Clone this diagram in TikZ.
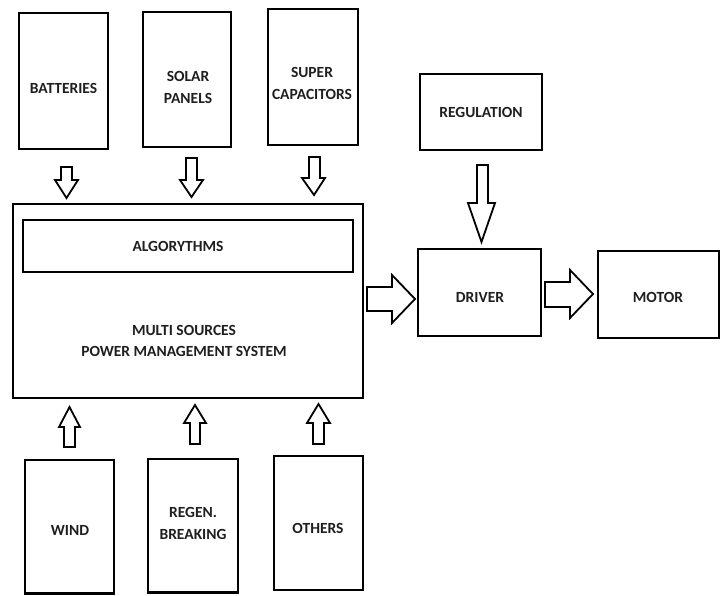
\documentclass[tikz,border=0pt]{standalone}
\usepackage{fontspec}
\setmainfont{Carlito}
\begin{document}
\begin{tikzpicture}[x=1pt,y=-1pt,
  box/.style={draw=black,line width=2.2pt,fill=white},
  lbl/.style={font=\bfseries\fontsize{15.5}{21.5}\selectfont,align=center,inner sep=0pt,text=black!88},
  blk/.style={draw=black,line width=1.8pt,line join=miter,fill=white}]
\useasboundingbox (0,0) rectangle (725,595);
% boxes
\draw[box] (19,13) rectangle (108,149);
\node[lbl] (bat) at (63.5,88) {BATTERIES};
\draw[box] (143,12) rectangle (231,147);
\node[lbl] (sol) at (188,87.5) {SOLAR\\PANELS};
\draw[box] (268,9) rectangle (358,145);
\node[lbl] (sup) at (312,83.5) {SUPER\\CAPACITORS};
\draw[box] (420,74) rectangle (542,150);
\node[lbl] (reg) at (481,112) {REGULATION};
\draw[box] (13,204) rectangle (363,398);
\draw[box] (23,220) rectangle (353,272);
\node[lbl] (alg) at (178,246) {ALGORYTHMS};
\node[lbl] (mpm) at (184,341) {MULTI SOURCES\\POWER MANAGEMENT SYSTEM};
\draw[box] (418,249) rectangle (541,336);
\node[lbl] (drv) at (480,297) {DRIVER};
\draw[box] (598,251) rectangle (719,338);
\node[lbl] (mot) at (658,297) {MOTOR};
\draw[box] (25,460) rectangle (114,593.5);
\node[lbl] (wind) at (70,530) {WIND};
\draw[box] (148,459) rectangle (238,592.5);
\node[lbl] (regen) at (193,523.5) {REGEN.\\BREAKING};
\draw[box] (274,456) rectangle (363,590);
\node[lbl] (oth) at (318,528) {OTHERS};
% down arrows
\draw[blk] (61,167) -- (72,167) -- (72,180) -- (78,180) -- (66.5,198) -- (55,180) -- (61,180) -- cycle;
\draw[blk] (186,158) -- (197,158) -- (197,180) -- (203,180) -- (191.5,197) -- (180,180) -- (186,180) -- cycle;
\draw[blk] (309,157) -- (320,157) -- (320,178) -- (325,178) -- (314,195) -- (302,178) -- (309,178) -- cycle;
\draw[blk] (477,165) -- (488,165) -- (488,203) -- (495,203) -- (481.5,242) -- (468,203) -- (477,203) -- cycle;
% right arrows
\draw[blk] (367,287) -- (392,287) -- (392,275) -- (415,299) -- (392,323) -- (392,311) -- (367,311) -- cycle;
\draw[blk] (545,282) -- (570,282) -- (570,270) -- (593,294) -- (570,318) -- (570,307) -- (545,307) -- cycle;
% up arrows
\draw[blk] (64,447) -- (75,447) -- (75,427) -- (80,427) -- (69.5,407) -- (59,427) -- (64,427) -- cycle;
\draw[blk] (190,444) -- (200,444) -- (200,423) -- (206,423) -- (195,405) -- (184,423) -- (190,423) -- cycle;
\draw[blk] (313,444) -- (324,444) -- (324,423) -- (330,423) -- (318.5,404) -- (307,423) -- (313,423) -- cycle;
\end{tikzpicture}
\end{document}
